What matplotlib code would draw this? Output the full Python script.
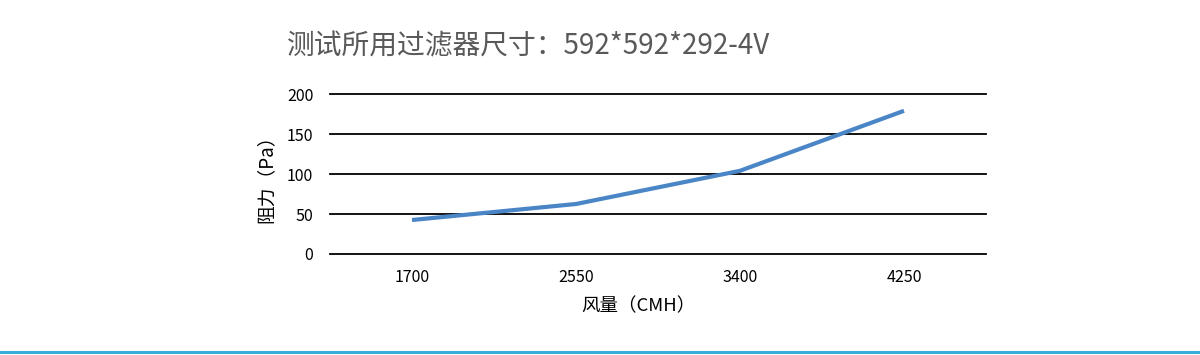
import numpy as np
import matplotlib.pyplot as plt
from matplotlib.lines import Line2D

plt.rcParams['font.family'] = ['Noto Sans CJK SC', 'DejaVu Sans']

# data
airflow = ['1700', '2550', '3400', '4250']
resistance = [42.5, 62.5, 104, 179]
y_ticks = [0, 50, 100, 150, 200]

title = '测试所用过滤器尺寸：592*592*292-4V'

fig = plt.figure(figsize=(12, 3.55), dpi=100)
ax = fig.add_axes([330 / 1200, 1 - 254 / 355, 656 / 1200, 160 / 355])

x = np.arange(len(airflow)) + 0.5
ax.plot(x, resistance, color='#4a86c6', lw=3, solid_capstyle='butt')

ax.set_xlim(0, len(airflow))
ax.set_ylim(0, 200)
ax.set_yticks(y_ticks)
ax.set_xticks(x)
ax.set_xticklabels(airflow)
# gridlines drawn by hand so the ones on the edges are not clipped
for v in y_ticks:
    ax.axhline(v, color='black', lw=1.3, clip_on=False, zorder=0)
for s in ax.spines.values():
    s.set_visible(False)
ax.tick_params(length=0, labelsize=11.5, colors='black')
ax.tick_params(axis='x', pad=11)
ax.tick_params(axis='y', pad=12)
ax.set_xlabel('风量（CMH）', fontsize=13.3)
ax.xaxis.set_label_coords(0.47, -0.272)
ax.set_ylabel('阻力（Pa）', fontsize=13.5)
ax.yaxis.set_label_coords(-0.082, 0.5)

fig.text(287 / 1200, 1 - 46 / 355, title, fontsize=20, color='#595959',
         va='center', ha='left')

# bottom rule
fig.add_artist(Line2D([0, 1], [1 - 352 / 355] * 2, color='#3aaed8', lw=2.2,
                      transform=fig.transFigure))

fig.savefig('out.png', dpi=100)
